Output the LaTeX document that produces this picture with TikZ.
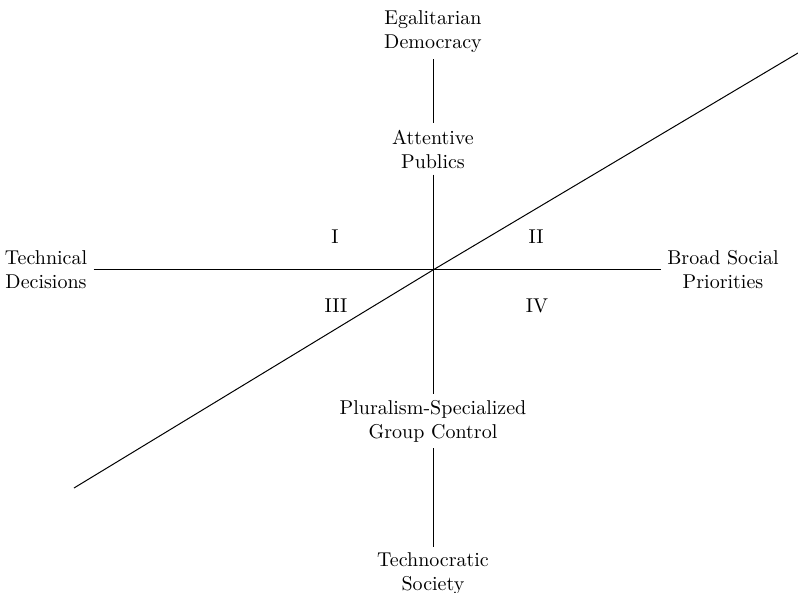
\documentclass[tikz,border=0pt]{standalone}
\usepackage{tikz}
\usetikzlibrary{positioning}
\tikzset{
  >=latex,  % frecce di default
  % Etichette dei poli
  pole/.style={align=center,font=\normalsize,inner sep=3pt},
  % Numeri dei quadranti
  quadrant/.style={font=\normalsize},
  % Linee degli assi
  axis line/.style={line width=0.5pt,black}
}

\begin{document}
\begin{tikzpicture}[x=0.5pt,y=-0.5pt]
        \useasboundingbox (0,0) rectangle (798,593);
        \coordinate (origin) at (433,270);
        \coordinate (diag start) at (74,488);
        \coordinate (diag end) at (798,53);
        \node[pole] (egalitarian) at (433,32) {Egalitarian\\Democracy};
        \node[pole] (attentive) at (433,149) {Attentive\\Publics};
        \node[pole] (pluralism) at (433,421) {Pluralism-Specialized\\Group Control};
        \node[pole] (technocratic) at (433,574) {Technocratic\\Society};
        \node[pole] (technical) at (46,270) {Technical\\Decisions};
        \node[pole] (broad) at (723,270) {Broad Social\\Priorities};
        \node[quadrant] (q1) at (335,237) {I};
        \node[quadrant] (q2) at (536,237) {II};
        \node[quadrant] (q3) at (336,306) {III};
        \node[quadrant] (q4) at (537,306) {IV};
        \draw[axis line] (egalitarian) -- (attentive);
        \draw[axis line] (attentive) -- (pluralism);
        \draw[axis line] (pluralism) -- (technocratic);
        \draw[axis line] (technical) -- (broad);
        \draw[axis line] (diag start) -- (origin) -- (diag end);
      \end{tikzpicture}
\end{document}
